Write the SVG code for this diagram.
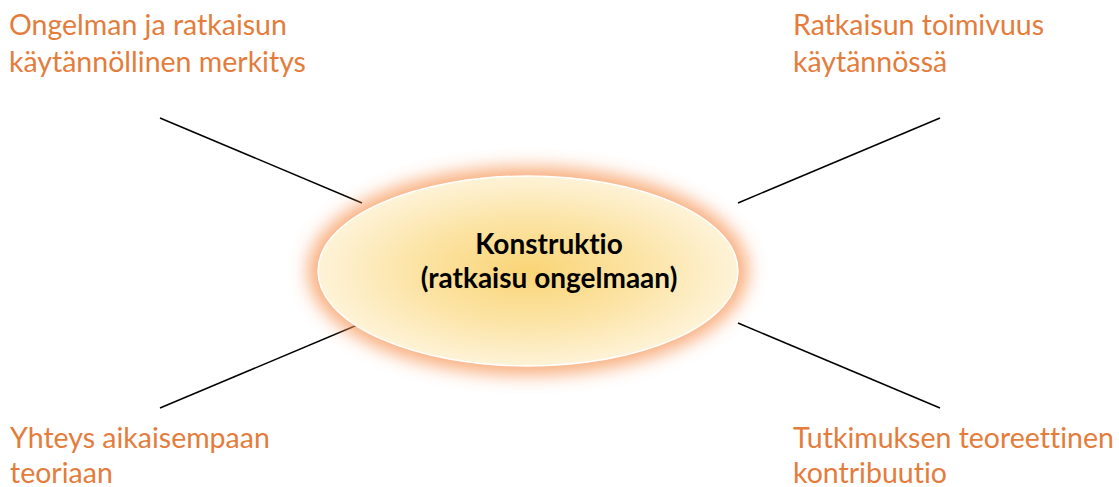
<svg xmlns="http://www.w3.org/2000/svg" width="1119" height="487" viewBox="0 0 1119 487">
<style>
.lbl{font-family:Lato,"Open Sans","Liberation Sans",sans-serif;font-size:28.5px;fill:#E47C3C;font-variant-ligatures:none}
.ctr{font-family:Lato,"Open Sans","Liberation Sans",sans-serif;font-size:28px;font-weight:bold;fill:#000;text-anchor:middle;font-variant-ligatures:none}
.conn line{stroke:#000;stroke-width:1.5}
</style>
<defs>
<radialGradient id="fillG" cx="0.5" cy="0.5" r="0.5">
<stop offset="0" stop-color="#FAD577"/>
<stop offset="0.55" stop-color="#FCE4A6"/>
<stop offset="1" stop-color="#FEF3D8"/>
</radialGradient>
<filter id="glow" x="-20%" y="-30%" width="140%" height="160%">
<feGaussianBlur stdDeviation="9"/>
</filter>
</defs>
<rect width="1119" height="487" fill="#fff"/>
<g id="connectors" class="conn">
<line x1="160" y1="118" x2="362" y2="203"/>
<line x1="940" y1="118" x2="738" y2="203"/>
<line x1="160" y1="408" x2="362" y2="323"/>
<line x1="940" y1="408" x2="738" y2="323"/>
</g>
<g id="center">
<ellipse cx="528" cy="271" rx="220" ry="104" fill="#F7985A" opacity="0.8" filter="url(#glow)"/>
<ellipse cx="528" cy="271" rx="210" ry="95" fill="url(#fillG)" stroke="#fff" stroke-width="1.5"/>
<text class="ctr" x="549" y="254">Konstruktio</text>
<text class="ctr" x="549" y="288">(ratkaisu ongelmaan)</text>
</g>
<g id="tl"><text class="lbl" x="9" y="35">Ongelman ja ratkaisun</text><text class="lbl" x="9" y="72">käytännöllinen merkitys</text></g>
<g id="tr"><text class="lbl" x="793" y="35">Ratkaisun toimivuus</text><text class="lbl" x="793" y="72">käytännössä</text></g>
<g id="bl"><text class="lbl" x="10" y="448">Yhteys aikaisempaan</text><text class="lbl" x="10" y="483">teoriaan</text></g>
<g id="br"><text class="lbl" x="793" y="448">Tutkimuksen teoreettinen</text><text class="lbl" x="793" y="483">kontribuutio</text></g>
</svg>
